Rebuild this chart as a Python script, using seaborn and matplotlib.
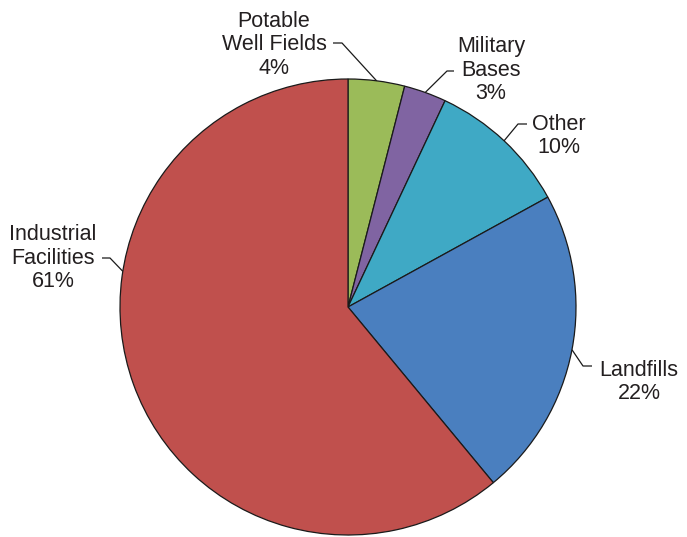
import numpy as np
import matplotlib.pyplot as plt
import seaborn as sns

sns.set_style("white")
plt.rcParams["font.family"] = ["Liberation Sans", "DejaVu Sans"]

labels = ["Potable\nWell Fields\n4%", "Military\nBases\n3%", "Other\n10%",
          "Landfills\n22%", "Industrial\nFacilities\n61%"]
shares = [4, 3, 10, 22, 61]
colors = ["#9bbb59", "#8064a2", "#3fa9c5", "#4a7fbf", "#c0504d"]

# label layout in pixel coords (image y downwards): text centre, line end at text, elbow
text_pos = [(274, 45), (491, 70), (559, 136), (639, 382), (53, 258)]
elbow = [((333, 43), (342, 43)), ((454, 71), (447, 71)), ((527, 124), (518, 124)),
         ((592, 366), (583, 366)), ((102, 258), (110, 258))]
edge_angle = [None, None, None, None, 171]

W, H = 687, 537
fig = plt.figure(figsize=(W / 100, H / 100), dpi=100)
ax = fig.add_axes([0, 0, 1, 1])
cx, cy, r = 348, H - 307, 228

wedges, _ = ax.pie(shares, colors=colors, startangle=90, counterclock=False,
                   center=(cx, cy), radius=r,
                   wedgeprops=dict(edgecolor="#1a1a1a", linewidth=0.9))

for w, lab, tp, (p0, p1), ang in zip(wedges, labels, text_pos, elbow, edge_angle):
    if ang is None:
        ang = (w.theta1 + w.theta2) / 2
    ex = cx + r * np.cos(np.radians(ang))
    ey = cy + r * np.sin(np.radians(ang))
    ax.plot([p0[0], p1[0], ex], [H - p0[1], H - p1[1], ey],
            color="#1a1a1a", lw=0.9, solid_capstyle="butt")
    ax.text(tp[0], H - tp[1], lab, ha="center", va="center", fontsize=15.5,
            linespacing=1.13, color="#231f20")

ax.set_xlim(0, W)
ax.set_ylim(0, H)
ax.set_aspect("equal")
ax.axis("off")
fig.savefig("out.png", dpi=100)
